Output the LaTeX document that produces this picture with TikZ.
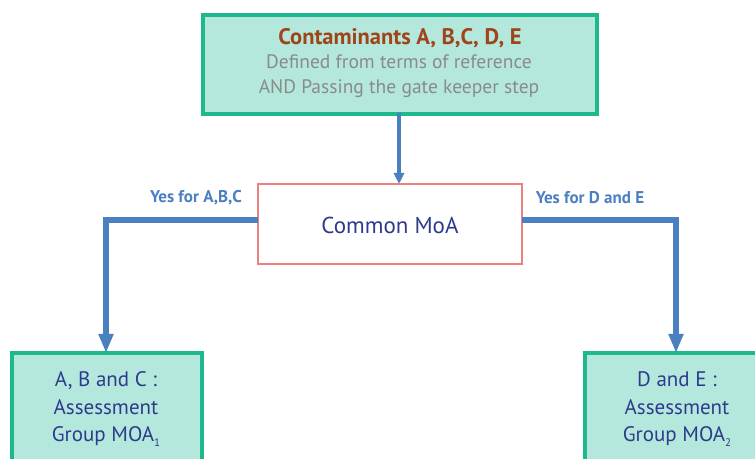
\documentclass[tikz,border=0pt]{standalone}
\usepackage{fontspec}
\setmainfont{PT Sans}
\usetikzlibrary{arrows.meta}
\definecolor{teal1}{HTML}{1DB88E}
\definecolor{tealfill}{HTML}{B5E8DC}
\definecolor{brownt}{HTML}{A0441A}
\definecolor{grayt}{HTML}{8A8A8A}
\definecolor{bluel}{HTML}{4A7FC0}
\definecolor{bluet}{HTML}{2E3A8C}
\definecolor{redb}{HTML}{F08080}
\newcommand{\lowsub}[1]{\raisebox{-0.45ex}{\fontsize{11bp}{12bp}\selectfont #1}}
\tikzset{
  greenbox/.style={draw=teal1, line width=4bp, fill=tealfill, inner sep=0pt, outer sep=0pt},
  flow/.style={draw=bluel, line width=4bp, -{Triangle[length=11bp,width=10bp]}},
  flowbig/.style={draw=bluel, line width=6bp, -{Triangle[length=19bp,width=14bp]}},
  yeslabel/.style={text=bluel, font=\fontsize{17bp}{18bp}\selectfont\bfseries},
  groupt/.style={text=bluet, font=\fontsize{21bp}{27.5bp}\selectfont, align=center},
}
\begin{document}
\begin{tikzpicture}[x=1bp,y=-1bp]
\useasboundingbox (0,0) rectangle (755,459);
\clip (0,0) rectangle (755,459);
% top box
\node[greenbox, minimum width=394bp, minimum height=99bp, anchor=north west] (top) at (203,15) {};
\node[text=brownt, font=\fontsize{22.5bp}{24bp}\selectfont\bfseries] (title) at (400,38) {Contaminants A, B,C, D, E};
\node[text=grayt, font=\fontsize{19.5bp}{25.5bp}\selectfont, align=center] (sub) at (399,76) {Defined from terms of reference\\AND Passing the gate keeper step};
% common box
\node[draw=redb, line width=1.2bp, fill=white, minimum width=264bp, minimum height=80bp, outer sep=0pt, anchor=north west] (moa) at (258,184) {};
\node[text=bluet, font=\fontsize{23bp}{26bp}\selectfont] (moat) at (390,225) {Common MoA};
% bottom boxes
\node[greenbox, minimum width=190bp, minimum height=120bp, anchor=north west] (left) at (12,353) {};
\node[greenbox, minimum width=190bp, minimum height=120bp, anchor=north west] (right) at (585,353) {};
\node[groupt] (leftt) at (106,409) {A, B and C :\\Assessment\\Group MOA\lowsub{1}};
\node[groupt] (rightt) at (677,409) {D and E :\\Assessment\\Group MOA\lowsub{2}};
% connectors
\coordinate (tc) at (399,113);
\coordinate (lc) at (106,220.5);
\coordinate (rc) at (676,220.5);
\draw[flow] (tc) -- (tc |- moa.north);
\draw[flowbig] (moa.west |- lc) -- (lc) -- (lc |- left.north);
\draw[flowbig] (moa.east |- rc) -- (rc) -- (rc |- right.north);
\node[yeslabel] (yl) at (196,198) {Yes for A,B,C};
\node[yeslabel] (yr) at (590,198) {Yes for D and E};
\end{tikzpicture}
\end{document}
